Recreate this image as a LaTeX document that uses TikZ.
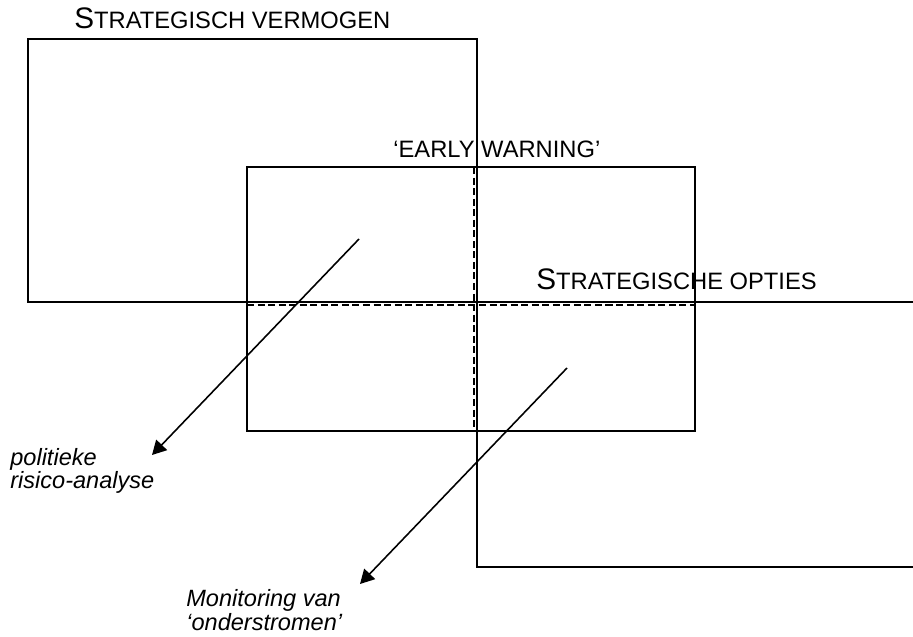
\documentclass[tikz,border=0pt]{standalone}
\usepackage{fontspec}
\setmainfont{Liberation Sans}
\usepackage{tikz}
\usetikzlibrary{arrows.meta}
\newcommand{\initsize}{\fontsize{16.9pt}{19pt}\selectfont}
\newcommand{\capsize}{\fontsize{13.5pt}{16pt}\selectfont}
\newcommand{\remsize}{\fontsize{13.4pt}{13.6pt}\selectfont}
\tikzset{frame/.style = {draw, line width=0.9pt},
         split/.style = {draw, line width=0.9pt, dash pattern=on 4pt off 2pt},
         pointer/.style = {line width=0.9pt, -{Triangle[length=8pt,width=8.5pt]}},
         heading/.style = {anchor=base west, inner sep=0pt},
         remark/.style = {anchor=base west, inner sep=0pt, align=left, font=\remsize\itshape}}
\begin{document}
\begin{tikzpicture}
            \useasboundingbox (0,0) rectangle (18.26,12.72);
            \clip (0,0) rectangle (18.26,12.72);

            \draw [frame] (0.56,11.94) rectangle (9.54,6.68);
            \draw [frame] (4.94,9.38) rectangle (13.90,4.10);
            \draw [frame] (9.54,6.68) rectangle (19.00,1.38);

            \draw [split] (9.48,9.38) -- (9.48,4.10);
            \draw [split] (4.94,6.62) -- (13.90,6.62);

            \node [heading] (vermogen) at (1.48,12.15) {\initsize S\capsize TRATEGISCH VERMOGEN};
            \node [heading] (warning) at (7.86,9.56) {\capsize ‘EARLY WARNING’};
            \node [heading] (opties) at (10.72,6.92) {\initsize S\capsize TRATEGISCHE OPTIES};

            \node [remark] (risico) at (0.20,2.94) {politieke\\risico-analyse};
            \node [remark] (monitoring) at (3.72,0.12) {Monitoring van\\‘onderstromen’};

            \coordinate (s1) at (7.18,7.94);
            \coordinate (t1) at (3.04,3.62);
            \coordinate (s2) at (11.34,5.36);
            \coordinate (t2) at (7.20,1.04);

            \draw [pointer] (s1) -- (t1);
            \draw [pointer] (s2) -- (t2);
        \end{tikzpicture}
\end{document}
